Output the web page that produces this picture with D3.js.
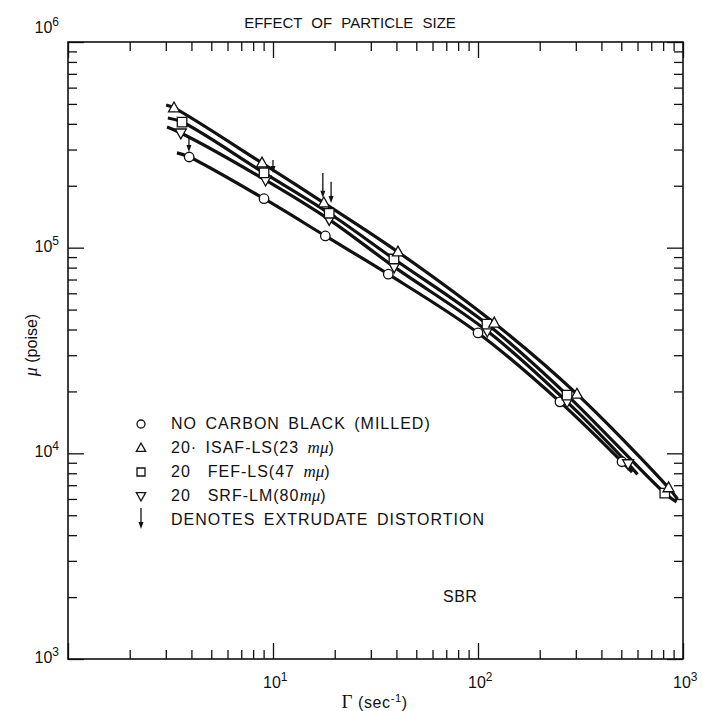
<!DOCTYPE html>
<html>
<head>
<meta charset="utf-8">
<script src="https://cdn.jsdelivr.net/npm/d3@7"></script>
<style>
  html, body { margin: 0; padding: 0; background: #fff; }
  svg text { font-family: "Liberation Sans", Arial, sans-serif; fill: #111; }
</style>
</head>
<body>
<svg id="chart" width="702" height="711"></svg>
<script>
// Shear rate (sec^-1) and viscosity (poise) for SBR stocks
const seriesNames = ["NO CARBON BLACK (MILLED)", "20· ISAF-LS", "20 FEF-LS", "20 SRF-LM"];
const seriesSymbols = ["circle", "triangle", "square", "triangleDown"];

const noBlackRate = [3.9, 9.04, 18.0, 36.5, 100, 251, 504];
const noBlackVisc = [2.76e5, 1.73e5, 1.14e5, 7.43e4, 3.85e4, 1.78e4, 9.1e3];

const isafRate = [3.29, 8.84, 17.7, 40.7, 120, 304, 850];
const isafVisc = [4.78e5, 2.58e5, 1.65e5, 9.53e4, 4.30e4, 1.94e4, 6.8e3];

const fefRate = [3.6, 9.04, 18.8, 38.9, 110.6, 272, 815];
const fefVisc = [4.08e5, 2.31e5, 1.47e5, 8.81e4, 4.25e4, 1.92e4, 6.4e3];

const srfRate = [3.55, 9.2, 18.8, 39.0, 111, 272, 540];
const srfVisc = [3.61e5, 2.13e5, 1.37e5, 8.06e4, 3.93e4, 1.78e4, 8.9e3];

// Where each drawn curve begins and ends (rate, viscosity)
const curveStart = [[3.40, 2.89e5], [3.01, 4.94e5], [3.07, 4.27e5], [3.04, 3.86e5]];
const curveEnd   = [[565, 8.1e3], [940, 6.0e3], [930, 5.8e3], [600, 7.9e3]];

// Extrudate distortion arrows: rate, tail viscosity, tip viscosity
const arrowRate = [3.89, 10.0, 17.5, 19.2];
const arrowTail = [3.45e5, 2.67e5, 2.31e5, 2.09e5];
const arrowTip  = [2.92e5, 2.31e5, 1.75e5, 1.65e5];

// Axis ticks
const xMajor = [1, 10, 100, 1000];
const yMajor = [1e3, 1e4, 1e5, 1e6];
const xLabelExp = [1, 2, 3];
const yLabelExp = [3, 4, 5, 6];

const svg = d3.select("#chart");
const plotL = 68, plotR = 683, plotT = 42, plotB = 659;

const x = d3.scaleLog().domain([1, 1000]).range([plotL, plotR]);
const y = d3.scaleLog().domain([1e3, 1e6]).range([plotB, plotT]);

function minorTicks(majors) {
  const out = [];
  for (let i = 0; i < majors.length - 1; i++) {
    for (let k = 2; k <= 9; k++) out.push(majors[i] * k);
  }
  return out;
}
const xMinor = minorTicks(xMajor);
const yMinor = minorTicks(yMajor);

const axisStyle = g => {
  g.select(".domain").remove();
  g.selectAll("line").attr("stroke", "#111").attr("stroke-width", 1.3);
  g.selectAll("text").remove();
};

const MINOR = 9, MAJOR = 16;
// inward-pointing ticks on all four sides
svg.append("g").attr("transform", `translate(0,${plotB})`)
  .call(d3.axisBottom(x).tickValues(xMinor).tickSize(-MINOR).tickFormat("")).call(axisStyle);
svg.append("g").attr("transform", `translate(0,${plotB})`)
  .call(d3.axisBottom(x).tickValues(xMajor).tickSize(-MAJOR).tickFormat("")).call(axisStyle);
svg.append("g").attr("transform", `translate(0,${plotT})`)
  .call(d3.axisTop(x).tickValues(xMinor).tickSize(-MINOR).tickFormat("")).call(axisStyle);
svg.append("g").attr("transform", `translate(0,${plotT})`)
  .call(d3.axisTop(x).tickValues(xMajor).tickSize(-MAJOR).tickFormat("")).call(axisStyle);
svg.append("g").attr("transform", `translate(${plotL},0)`)
  .call(d3.axisLeft(y).tickValues(yMinor).tickSize(-MINOR).tickFormat("")).call(axisStyle);
svg.append("g").attr("transform", `translate(${plotL},0)`)
  .call(d3.axisLeft(y).tickValues(yMajor).tickSize(-MAJOR).tickFormat("")).call(axisStyle);
svg.append("g").attr("transform", `translate(${plotR},0)`)
  .call(d3.axisRight(y).tickValues(yMinor).tickSize(-MINOR).tickFormat("")).call(axisStyle);
svg.append("g").attr("transform", `translate(${plotR},0)`)
  .call(d3.axisRight(y).tickValues(yMajor).tickSize(-MAJOR).tickFormat("")).call(axisStyle);

// frame
svg.append("rect")
  .attr("x", plotL).attr("y", plotT)
  .attr("width", plotR - plotL).attr("height", plotB - plotT)
  .attr("fill", "none").attr("stroke", "#111").attr("stroke-width", 1.6);

// tick labels with superscript exponents
const xl = svg.append("g").selectAll("text").data(xLabelExp).join("text")
  .attr("x", d => x(Math.pow(10, d)) - 10).attr("y", plotB + 29)
  .attr("text-anchor", "start").style("font-size", "16px");
xl.append("tspan").text("10");
xl.append("tspan").attr("dy", -7).style("font-size", "12px").text(d => d);

const yl = svg.append("g").selectAll("text").data(yLabelExp).join("text")
  .attr("x", plotL - 9).attr("y", d => y(Math.pow(10, d)) + (d === 6 ? -9 : 4))
  .attr("text-anchor", "end").style("font-size", "16px");
yl.append("tspan").text("10");
yl.append("tspan").attr("dy", -7).style("font-size", "12px").text(d => d);

// axis titles
const xt = svg.append("text").attr("x", (plotL + plotR) / 2 - 1).attr("y", 708)
  .attr("text-anchor", "middle").style("font-size", "16px").style("letter-spacing", "0.6px");
xt.append("tspan").style("font-family", "Liberation Serif, serif").style("font-size", "19px").text("Γ");
xt.append("tspan").text(" (sec");
xt.append("tspan").attr("dy", -6).style("font-size", "11px").text("-1");
xt.append("tspan").attr("dy", 6).text(")");

const yt = svg.append("text").attr("transform", "translate(37,345) rotate(-90)")
  .attr("text-anchor", "middle").style("font-size", "16px");
yt.append("tspan").style("font-style", "italic").style("font-family", "Liberation Serif, serif").style("font-size", "18px").text("μ");
yt.append("tspan").text(" (poise)");

svg.append("text").attr("x", 350).attr("y", 28).attr("text-anchor", "middle")
  .style("font-size", "15px").style("word-spacing", "5px").text("EFFECT OF PARTICLE SIZE");

// curves
const rates = [noBlackRate, isafRate, fefRate, srfRate];
const viscs = [noBlackVisc, isafVisc, fefVisc, srfVisc];
const line = d3.line().x(d => x(d[0])).y(d => y(d[1])).curve(d3.curveCatmullRom.alpha(0.5));

rates.forEach((r, i) => {
  const pts = [curveStart[i]].concat(r.map((v, j) => [v, viscs[i][j]]), [curveEnd[i]]);
  svg.append("path").datum(pts).attr("d", line)
    .attr("fill", "none").attr("stroke", "#111").attr("stroke-width", 3.2)
    .attr("stroke-linecap", "butt");
});

// arrows for extrudate distortion
function drawArrow(g, x0, y0, y1) {
  g.append("line").attr("x1", x0).attr("x2", x0).attr("y1", y0).attr("y2", y1 - 5)
    .attr("stroke", "#111").attr("stroke-width", 1.3);
  g.append("path").attr("d", `M${x0 - 2.5},${y1 - 7} L${x0 + 2.5},${y1 - 7} L${x0},${y1} Z`).attr("fill", "#111");
}
const ag = svg.append("g");
arrowRate.forEach((r, i) => drawArrow(ag, x(r), y(arrowTail[i]), y(arrowTip[i])));

// markers
function symbolPath(kind, s) {
  if (kind === "triangle") return `M0,${-s * 0.62} L${s * 0.58},${s * 0.42} L${-s * 0.58},${s * 0.42} Z`;
  if (kind === "triangleDown") return `M0,${s * 0.62} L${s * 0.58},${-s * 0.42} L${-s * 0.58},${-s * 0.42} Z`;
  return `M${-s / 2},${-s / 2} H${s / 2} V${s / 2} H${-s / 2} Z`;
}
function drawMarker(g, kind, cx, cy, size) {
  if (kind === "circle") {
    g.append("circle").attr("cx", cx).attr("cy", cy).attr("r", size / 2)
      .attr("fill", "#fff").attr("stroke", "#111").attr("stroke-width", 1.3);
  } else {
    g.append("path").attr("transform", `translate(${cx},${cy})`).attr("d", symbolPath(kind, size))
      .attr("fill", "#fff").attr("stroke", "#111").attr("stroke-width", 1.3);
  }
}
const mg = svg.append("g");
// lowest series first so the upper markers sit on top
[0, 3, 2, 1].forEach(i => {
  rates[i].forEach((r, j) => drawMarker(mg, seriesSymbols[i], x(r), y(viscs[i][j]), 9.5));
});

// legend
const legendRows = [429, 453, 477, 501, 525];
const lg = svg.append("g");
const legendTexts = [
  [["NO CARBON BLACK (MILLED)", null]],
  [["20· ISAF-LS(23 ", null], ["m", "i"], ["μ", "i"], [")", null]],
  [["20  FEF-LS(47 ", null], ["m", "i"], ["μ", "i"], [")", null]],
  [["20  SRF-LM(80", null], ["m", "i"], ["μ", "i"], [")", null]],
  [["DENOTES EXTRUDATE DISTORTION", null]]
];
legendTexts.forEach((parts, i) => {
  const t = lg.append("text").attr("x", 171).attr("y", legendRows[i])
    .style("font-size", "16px").style("letter-spacing", "1px").style("word-spacing", "3px")
    .attr("xml:space", "preserve");
  parts.forEach(p => {
    const ts = t.append("tspan").text(p[0]);
    if (p[1] === "i") ts.style("font-style", "italic").style("font-family", "Liberation Serif, serif")
      .style("font-size", "17px").style("letter-spacing", "0px");
  });
  if (i < 4) drawMarker(lg, seriesSymbols[i], 141, legendRows[i] - 5, 8);
});
drawArrow(lg, 141, legendRows[4] - 17, legendRows[4] + 4);

svg.append("text").attr("x", 443).attr("y", 602).style("font-size", "16px")
  .style("letter-spacing", "0.5px").text("SBR");
</script>
</body>
</html>
